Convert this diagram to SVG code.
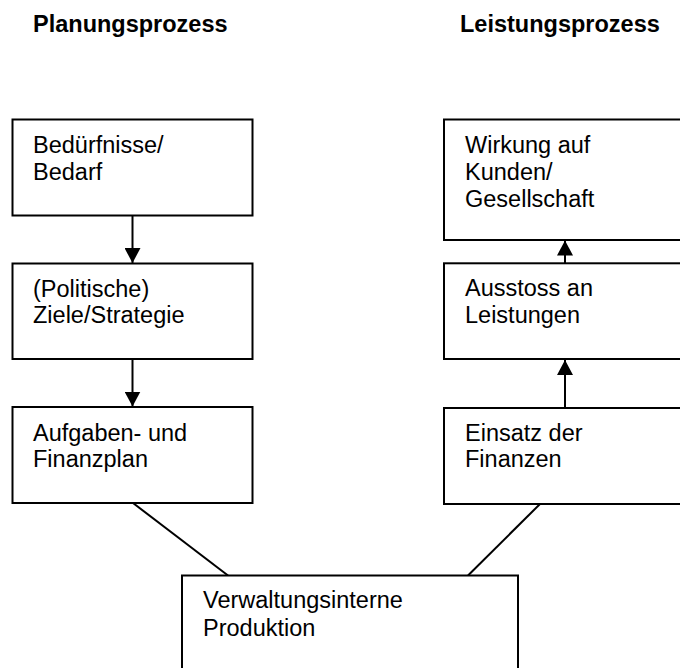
<svg xmlns="http://www.w3.org/2000/svg" width="680" height="668" viewBox="0 0 680 668">
<style>
.box{fill:#fff;stroke:#000;stroke-width:2}
.t{font-family:"Liberation Sans",Arial,sans-serif;font-size:23.5px;fill:#000}
.h{font-family:"Liberation Sans",Arial,sans-serif;font-size:23.5px;font-weight:bold;fill:#000}
.c{stroke:#000;stroke-width:2;fill:none}
</style>
<defs>
<marker id="ah" markerUnits="userSpaceOnUse" markerWidth="16" markerHeight="16" viewBox="0 0 16 16" refX="15" refY="8" orient="auto">
<path d="M0,0 L15,8 L0,16 Z" fill="#000"/>
</marker>
</defs>
<rect width="680" height="668" fill="#fff"/>
<text class="h" x="33" y="32">Planungsprozess</text>
<text class="h" x="460" y="32">Leistungsprozess</text>
<g id="connectors">
<line class="c" x1="132.5" y1="216" x2="132.5" y2="263" marker-end="url(#ah)"/>
<line class="c" x1="132.5" y1="359" x2="132.5" y2="406.5" marker-end="url(#ah)"/>
<line class="c" x1="565" y1="263" x2="565" y2="240.5" marker-end="url(#ah)"/>
<line class="c" x1="565" y1="408" x2="565" y2="360" marker-end="url(#ah)"/>
<line class="c" x1="133" y1="503" x2="228" y2="575.5"/>
<line class="c" x1="540" y1="504" x2="468" y2="575.5"/>
</g>
<g id="beduerfnisse">
<rect class="box" x="12.5" y="119.5" width="240" height="96"/>
<text class="t" x="33" y="152.7">Bedürfnisse/</text>
<text class="t" x="33" y="180">Bedarf</text>
</g>
<g id="ziele">
<rect class="box" x="12.5" y="263.5" width="240" height="95.5"/>
<text class="t" x="33" y="296.7">(Politische)</text>
<text class="t" x="33" y="323">Ziele/Strategie</text>
</g>
<g id="aufgaben">
<rect class="box" x="12.5" y="407" width="240" height="96"/>
<text class="t" x="33" y="441">Aufgaben- und</text>
<text class="t" x="33" y="467">Finanzplan</text>
</g>
<g id="wirkung">
<rect class="box" x="444" y="119.5" width="242" height="120.5"/>
<text class="t" x="465" y="153.3">Wirkung auf</text>
<text class="t" x="465" y="180">Kunden/</text>
<text class="t" x="465" y="207.3">Gesellschaft</text>
</g>
<g id="ausstoss">
<rect class="box" x="444" y="263.3" width="242" height="95.7"/>
<text class="t" x="465" y="296">Ausstoss an</text>
<text class="t" x="465" y="323.3">Leistungen</text>
</g>
<g id="einsatz">
<rect class="box" x="444" y="408" width="242" height="96"/>
<text class="t" x="465" y="441">Einsatz der</text>
<text class="t" x="465" y="467.3">Finanzen</text>
</g>
<g id="produktion">
<rect class="box" x="182" y="575.5" width="336" height="110"/>
<text class="t" x="203" y="608.3">Verwaltungsinterne</text>
<text class="t" x="203" y="635.7">Produktion</text>
</g>
</svg>
